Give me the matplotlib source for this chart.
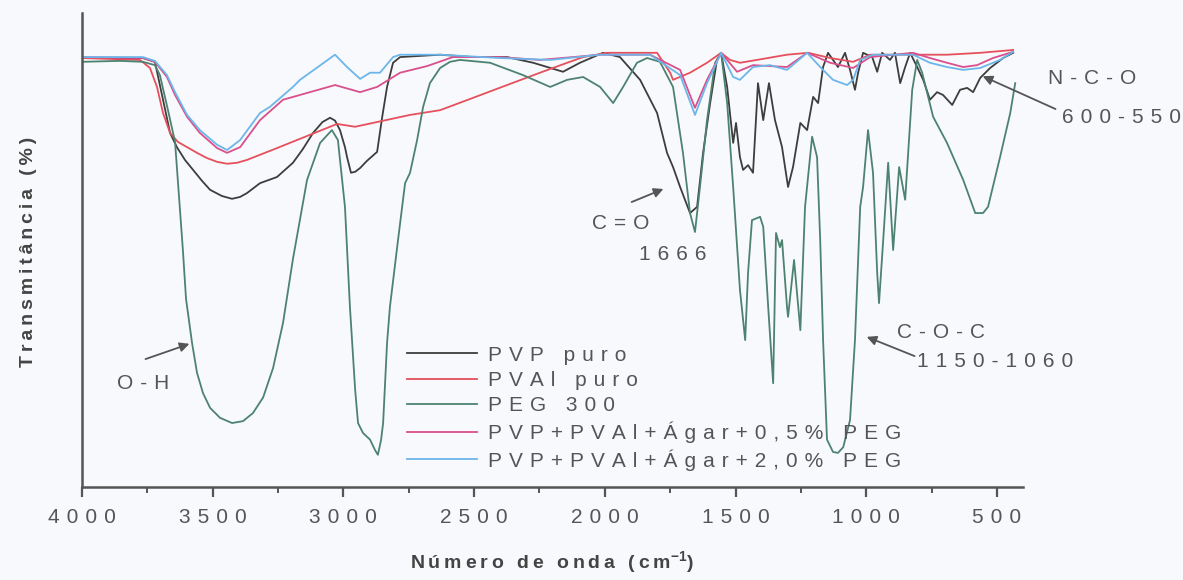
"""FTIR spectra of PVP, PVAl, PEG 300 and the PVP/PVAl/agar blends."""
import matplotlib
matplotlib.use("Agg")
import matplotlib.pyplot as plt
from matplotlib.ticker import MultipleLocator

plt.rcParams["font.family"] = ["Liberation Sans", "DejaVu Sans"]
plt.rcParams["mathtext.fontset"] = "custom"
plt.rcParams["mathtext.rm"] = "Liberation Sans"
plt.rcParams["mathtext.bf"] = "Liberation Sans:bold"

# wavenumber (cm-1) / transmittance (%) pairs per sample
pvp_wn = [4000, 3767, 3721, 3690, 3663, 3637, 3606, 3575, 3541, 3510, 3465, 3426, 3395,
          3369, 3319, 3254, 3193, 3155, 3116, 3080, 3051, 3032, 3013, 2994, 2986, 2971,
          2955, 2936, 2910, 2871, 2852, 2833, 2810, 2783, 2630,
          2504, 2374, 2274, 2160, 2095, 2007, 1942, 1865, 1800, 1762, 1739, 1712, 1674,
          1647, 1624, 1597, 1571, 1555, 1532, 1509, 1498, 1483, 1471, 1452, 1433, 1414,
          1394, 1372, 1349, 1322, 1299, 1280, 1252, 1226, 1203, 1184, 1165, 1146, 1127,
          1108, 1081, 1062, 1043, 1031, 1012, 977, 958, 939, 909, 890, 870, 851, 832, 805,
          782, 756, 729, 706, 671, 641, 614, 591, 564, 526, 476, 438]
pvp_t = [90.5, 90.5, 89.7, 81.7, 74.7, 71.7, 69.0, 66.9, 64.6, 62.7, 61.4, 60.8, 61.2,
         62.0, 64.1, 65.4, 68.4, 71.3, 74.7, 77.0, 77.9, 77.3, 75.3, 71.7, 69.6, 66.3,
         66.5, 67.3, 68.8, 70.7, 77.9, 84.4, 89.5, 90.7, 91.2,
         90.7, 90.7, 89.5, 87.6, 89.5, 91.6, 90.7, 85.9, 78.9, 70.5, 67.5, 63.3, 57.8,
         59.1, 70.5, 81.0, 90.1, 91.6, 84.4, 72.6, 76.8, 69.6, 66.9, 67.9, 66.3, 85.2,
         77.4, 85.2, 77.4, 71.7, 63.3, 67.5, 76.8, 75.3, 82.3, 81.0, 88.6, 91.6, 90.1,
         88.6, 91.6, 88.0, 83.8, 87.4, 91.6, 90.7, 87.6, 91.6, 90.1, 91.6, 85.2, 88.6,
         91.6, 88.6, 85.9, 81.7, 83.3, 82.7, 80.6, 83.8, 84.2, 83.3, 86.3, 88.4, 90.5, 91.6]

pval_wn = [4000, 3778, 3740, 3713, 3690, 3663, 3633, 3598, 3560, 3522, 3483, 3445, 3407,
           3369, 3254, 3128, 3024, 2955, 2871, 2745, 2630, 2504, 2374, 2248, 2144, 2083,
           1991, 1800, 1750, 1739, 1674, 1609, 1555, 1521, 1483, 1418, 1303, 1222, 1138,
           1050, 985, 821, 691, 564, 438]
pval_t = [90.5, 90.1, 88.4, 84.4, 78.9, 74.7, 72.8, 71.7, 70.5, 69.4, 68.6, 68.2, 68.4,
          69.0, 71.5, 74.3, 76.6, 76.0, 77.0, 78.5, 79.5, 82.1, 84.8, 87.4, 89.5, 90.7,
          91.6, 91.6, 87.4, 85.9, 87.4, 89.5, 91.6, 90.1, 89.5, 90.1, 91.2, 91.6, 90.5,
          89.7, 91.2, 91.2, 91.2, 91.6, 92.2]

peg_wn = [4000, 3855, 3767, 3721, 3702, 3671, 3644, 3614, 3602, 3579, 3560, 3537, 3510,
          3472, 3426, 3384, 3346, 3307, 3269, 3231, 3193, 3139, 3089, 3044, 3021, 2994,
          2975, 2955, 2944, 2925, 2898, 2879, 2868, 2856, 2848, 2833, 2822, 2791, 2764,
          2745, 2718, 2695, 2669, 2630, 2592, 2554, 2439, 2313,
          2209, 2144, 2083, 2018, 1968, 1930, 1877, 1838, 1789, 1739, 1701, 1674, 1655,
          1636, 1609, 1578, 1555, 1532, 1509, 1483, 1463, 1452, 1437, 1406, 1394, 1375,
          1356, 1345, 1330, 1322, 1303, 1299, 1276, 1252, 1234, 1207, 1188, 1176, 1165,
          1150, 1127, 1108, 1088, 1062, 1043, 1023, 1012, 993, 974, 958, 951, 935, 916, 897,
          874, 851, 824, 805, 786, 744, 691, 629, 583, 553, 534, 488, 449, 430]
peg_t = [89.7, 89.9, 89.7, 89.0, 86.9, 79.5, 72.8, 50.0, 39.7, 30.4, 24.1, 19.8, 16.7,
         14.6, 13.5, 13.9, 15.6, 18.9, 25.1, 34.6, 48.1, 64.8, 72.6, 75.3, 73.2, 59.1,
         38.0, 20.5, 13.5, 11.4, 10.0, 7.8, 6.8, 9.9, 13.5, 30.4, 38.0, 52.1, 64.1,
         66.3, 73.2, 80.2, 85.2, 88.4, 89.7, 90.1, 89.5, 86.9,
         84.4, 85.9, 86.5, 84.4, 81.0, 84.4, 89.5, 90.5, 89.7, 84.4, 70.5, 57.8, 53.8,
         63.3, 77.4, 89.5, 91.6, 81.0, 63.3, 41.6, 31.0, 45.2, 56.3, 57.0, 54.9, 38.0,
         21.9, 53.6, 50.6, 52.1, 38.0, 35.9, 47.9, 33.1, 59.1, 73.9, 69.6, 52.1, 31.0,
         10.0, 7.4, 7.2, 8.4, 14.1, 31.0, 59.1, 63.3, 75.3, 66.3, 45.2, 38.8, 52.1, 68.4, 50.0,
         67.5, 60.6, 83.8, 90.1, 87.4, 78.1, 72.6, 64.8, 57.8, 57.8, 59.1, 69.6, 78.9, 85.2]

mix05_wn = [4000, 3767, 3721, 3675, 3644, 3598, 3549, 3483, 3445, 3395, 3319, 3231, 3128,
            3032, 2936, 2871, 2783, 2680, 2581, 2401, 2248, 2018, 1827, 1712, 1655, 1609,
            1555, 1494, 1433, 1303, 1226, 1138, 1050, 985, 821, 756, 691, 629, 576, 515, 438]
mix05_t = [90.7, 90.5, 89.7, 86.5, 82.7, 78.1, 74.7, 71.5, 70.5, 71.7, 77.4, 81.7, 83.3,
           84.8, 83.3, 84.4, 87.4, 88.8, 90.7, 90.7, 90.1, 91.2, 91.2, 88.0, 80.0, 85.9,
           91.6, 87.6, 89.0, 88.6, 91.6, 89.5, 88.4, 90.7, 91.6, 90.5, 89.5, 88.6, 89.0, 90.5, 91.8]

mix20_wn = [4000, 3767, 3721, 3675, 3644, 3598, 3549, 3483, 3445, 3395, 3319, 3281, 3193,
            3166, 3032, 2986, 2936, 2898, 2860, 2810, 2783, 2630, 2401, 2209, 2018, 1827,
            1712, 1655, 1609, 1555, 1509, 1483, 1433, 1368, 1303, 1226, 1176, 1127, 1073,
            1050, 1023, 974, 821, 756, 691, 629, 564, 488, 438]
mix20_t = [90.7, 90.7, 89.9, 86.9, 83.3, 78.5, 75.3, 72.2, 71.1, 73.2, 78.9, 80.2, 84.4,
           85.9, 91.2, 88.6, 86.1, 87.4, 87.4, 90.7, 91.2, 91.2, 90.5, 90.1, 91.2, 91.2,
           86.9, 78.5, 85.2, 91.6, 86.5, 85.9, 88.6, 89.0, 88.0, 91.6, 88.6, 85.9, 84.8,
           85.9, 90.1, 91.2, 91.2, 89.5, 88.6, 88.0, 88.4, 90.1, 91.8]

labels = ["PVP puro", "PVAl puro", "PEG 300",
          "PVP+PVAl+Ágar+0,5% PEG", "PVP+PVAl+Ágar+2,0% PEG"]
colors = ["#3d3d3d", "#e5505c", "#4d8270", "#d9508c", "#6cb6ea"]
xticks = [4000, 3500, 3000, 2500, 2000, 1500, 1000, 500]

INK = "#555555"
TRACK = "\u2004"  # wide tracking used for every label


def tracked(s, gap=TRACK):
    return gap.join(s)


fig = plt.figure(figsize=(11.83, 5.80), dpi=100, facecolor="#f7f9fc")
ax = fig.add_axes([0.0693, 0.1603, 0.7955, 0.8173], facecolor="#f7f9fc")

series = [(pvp_wn, pvp_t), (pval_wn, pval_t), (peg_wn, peg_t),
          (mix05_wn, mix05_t), (mix20_wn, mix20_t)]
for (wn, t), lab, c in zip(series, labels, colors):
    ax.plot(wn, t, color=c, lw=1.3, label=tracked(lab))

ax.set_xlim(4000, 400)
ax.set_ylim(0, 100)
for side in ("top", "right"):
    ax.spines[side].set_visible(False)
for side in ("left", "bottom"):
    ax.spines[side].set_color(INK)
    ax.spines[side].set_linewidth(1.8)
ax.set_yticks([])
ax.set_xticks(xticks, labels=[tracked(str(v)) for v in xticks])
ax.xaxis.set_minor_locator(MultipleLocator(250))
ax.tick_params(axis="x", which="major", length=7, width=1.6, color=INK,
               labelsize=15, labelcolor=INK, pad=8)
ax.tick_params(axis="x", which="minor", length=4, width=1.4, color=INK)

ax.set_xlabel(tracked("Número de onda (cm", "\u2009") + r"$^{\mathbf{-1}}$" + ")",
              fontsize=14, fontweight="bold", color="#444444", labelpad=16)
fig.text(0.024, 0.565, tracked("Transmitância (%)", "\u2009"), rotation=90,
         fontsize=14, fontweight="bold", color="#444444", ha="center", va="center")

ax.legend(loc="upper left", bbox_to_anchor=(0.345, 0.298), frameon=False,
          fontsize=15, labelcolor=INK, handlelength=3.4, handletextpad=0.5,
          labelspacing=0.3, borderpad=0, borderaxespad=0)

# band assignments
arrow = dict(arrowstyle="-|>", color=INK, lw=1.3, mutation_scale=14)
notes = [
    ("O-H", (3767, 21.9), (3767, 26.8), (3579, 30.4)),
    ("C=O", (1938, 55.5), (1907, 59.9), (1766, 63.1)),
    ("C-O-C", (713, 32.7), (805, 27.4), (1008, 31.9)),
    ("N-C-O", (136, 86.1), (266, 79.5), (564, 86.9)),
]
for txt, pos, tail, head in notes:
    ax.annotate("", xy=head, xytext=tail, arrowprops=arrow, annotation_clip=False)
    ax.text(*pos, tracked(txt), fontsize=15, color=INK, ha="center", va="center",
            clip_on=False)
for txt, pos in [("1666", (1739, 49.0)), ("1150-1060", (507, 26.4)),
                 ("600-550", (25, 77.9))]:
    ax.text(*pos, tracked(txt), fontsize=15, color=INK, ha="center", va="center",
            clip_on=False)

fig.savefig("out.png", dpi=100, facecolor=fig.get_facecolor())
